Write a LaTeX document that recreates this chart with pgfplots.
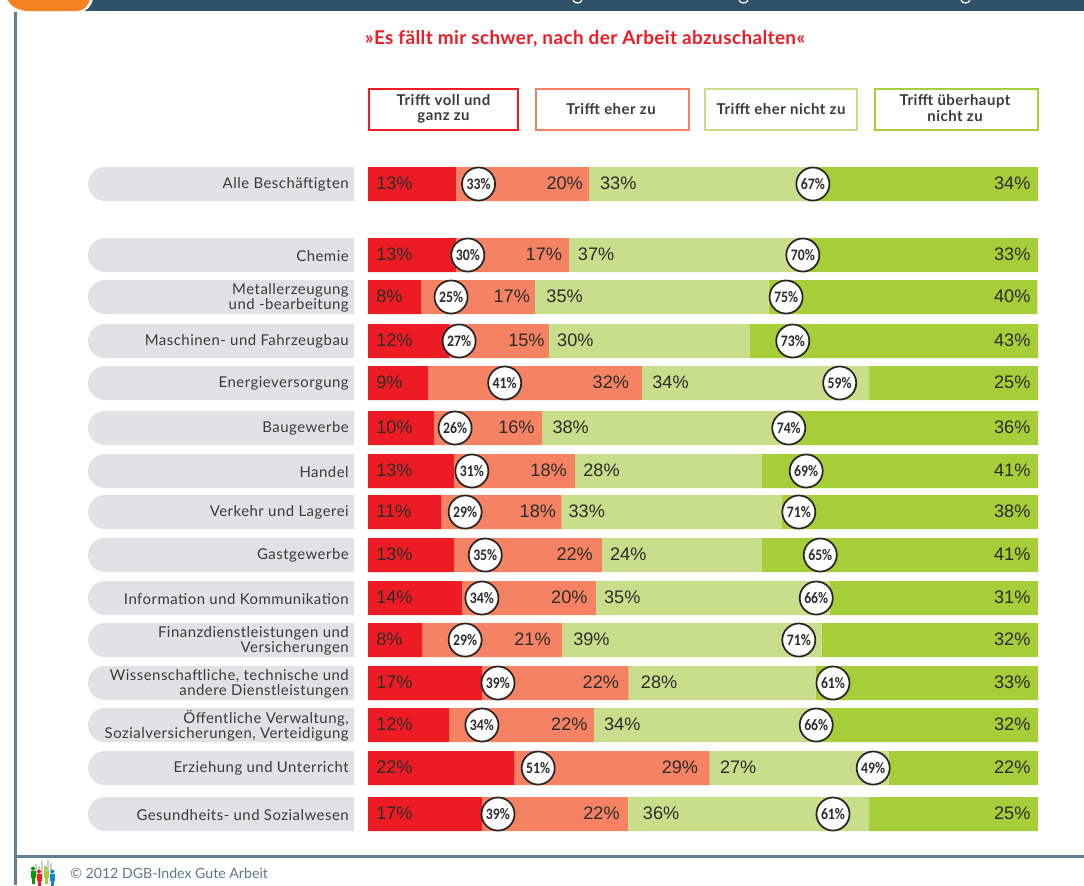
\documentclass[border=0pt]{standalone}
\usepackage{pgfplots}
\usepackage{pgfplotstable}
\usepackage{fontspec}
\pgfplotsset{compat=1.18}
\setmainfont{Lato}
\newfontfamily\catfont[LetterSpace=3.3]{Lato}
\newfontfamily\titfont[LetterSpace=2.0]{Lato}
\newfontfamily\legfont[LetterSpace=3.5]{Lato}
\newfontfamily\numfont{Liberation Sans}
\newfontfamily\circfont[FakeStretch=0.86]{Carlito}
\definecolor{cRed}{HTML}{ED1C24}
\definecolor{cSal}{HTML}{F58263}
\definecolor{cLig}{HTML}{C8DE8A}
\definecolor{cDrk}{HTML}{A6CE39}
\definecolor{cBand}{HTML}{2F5269}
\definecolor{cOra}{HTML}{F58220}
\definecolor{cRule}{HTML}{5F8093}
\definecolor{cPill}{HTML}{E1E2E4}
\definecolor{cTxt}{HTML}{3A3A3A}
\definecolor{cNum}{HTML}{2B2B2B}
\definecolor{cFoot}{HTML}{5A7889}
\pgfplotstableread{
y   red  sal  lig  drk  spos lpos c1   c2   v1 v2 v3 v4 w1 w2
184 13.1 19.9 33.4 33.6 32.1 34.6 16.5 66.4 13 20 33 34 33 67
255 13.1 16.9 34.9 35.1 29.0 31.3 14.9 64.9 13 17 37 33 30 70
297 7.9  17.0 34.9 40.1 24.2 26.6 12.4 62.4 8  17 35 40 25 75
341 12.1 14.9 30.0 43.0 26.4 28.2 13.6 63.4 12 15 30 43 27 73
383 9.0  31.9 33.9 25.2 39.0 42.4 20.4 70.4 9  32 34 25 41 59
428 9.9  16.1 36.9 37.1 24.9 27.5 13.0 62.8 10 16 38 36 26 74
471 12.8 18.1 27.9 41.2 29.7 32.1 15.5 65.4 13 18 28 41 31 69
512 11.0 17.9 32.8 38.3 28.1 29.9 14.5 64.3 11 18 33 38 29 71
555 12.8 22.1 23.9 41.2 33.6 36.1 17.5 67.5 13 22 24 41 35 65
598 14.0 20.0 34.9 31.1 32.8 35.2 17.0 66.9 14 20 35 31 34 66
640 8.1  20.9 38.7 32.3 27.3 30.6 14.5 64.3 8  21 39 32 29 71
683 17.0 21.9 27.9 33.2 37.5 40.7 19.4 69.4 17 22 28 33 39 61
725 12.1 21.6 33.1 33.2 32.8 35.2 17.0 66.9 12 22 34 32 34 66
768 21.9 29.1 26.7 22.3 49.3 52.5 25.4 75.4 22 29 27 22 51 49
814 17.0 21.8 36.0 25.2 37.6 41.0 19.4 69.4 17 22 36 25 39 61
}\T
\tikzset{legbox/.style={draw=#1,line width=1.5pt,fill=white}}
\begin{document}
\begin{tikzpicture}
\useasboundingbox (0,0) rectangle (813pt,-663.75pt);
\begin{scope}[x=0.75pt,y=-0.75pt]
 % frame
 \fill[cBand] (80,0) rectangle (1084,11);
 \fill[white] (4,-1) -- (93,-1) .. controls (92,6) and (86,12.5) .. (78,12.5) -- (28,12.5) .. controls (15,12.5) and (7,6) .. (4,-1) -- cycle;
 \fill[cOra] (7,-1) -- (90,-1) .. controls (89,5) and (84,11) .. (77,11) -- (29,11) .. controls (17,11) and (10,5) .. (7,-1) -- cycle;
 \draw[white,line width=0.9pt] (573,0) .. controls (574,4) and (581,4) .. (582,0);
 \draw[white,line width=0.9pt] (739,0) .. controls (740,4) and (747,4) .. (748,0);
 \draw[white,line width=0.9pt] (961,0) .. controls (962,4) and (969,4) .. (970,0);
 \fill[cRule] (14,12) rectangle (16.5,885);
 \fill[cRule] (14,855) rectangle (1084,857.5);
 % pills behind the category names
 \foreach \yy in {184,255,297,341,383,428,471,512,555,598,640,683,725,768,814}{
   \fill[cPill] (354,\yy-17) -- (105,\yy-17) arc[start angle=270,end angle=90,radius=17] -- (354,\yy+17) -- cycle;
 }
 % title
 \node[text=cRed,font=\titfont\bfseries\fontsize{14.2pt}{16pt}\selectfont] at (585,39) {»Es fällt mir schwer, nach der Arbeit abzuschalten«};
 % legend
 \foreach \xa/\xb/\col in {369/518/cRed,536/689/cSal,705/857/cLig,875/1038/cDrk}{
   \draw[legbox=\col] (\xa,89) rectangle (\xb,130);
 }
 \begin{scope}[every node/.style={text=cTxt,align=center,font=\legfont\bfseries\fontsize{11.2pt}{11.6pt}\selectfont}]
 \node at (443.5,109) {Trifft voll und\\ganz zu};
 \node at (611,109) {Trifft eher zu};
 \node at (781,109) {Trifft eher nicht zu};
 \node at (955,108) {Trifft überhaupt\\nicht zu};
 \end{scope}
 % footer
 \node[anchor=west,text=cFoot,font=\fontsize{10.6pt}{12pt}\selectfont,inner sep=0] at (70,873) {© 2012 DGB-Index Gute Arbeit};
 \foreach \xx/\hh in {32/868,35/864,38/866,41/861,44/865,47/860,50/863}{
   \fill[gray!40] (\xx,\hh) rectangle (\xx+2,876);
 }
 \foreach \xx/\yy/\col in {33/871/green!60!black,39/874/cRed,46/871/cDrk,52.5/874/cyan!70!blue}{
   \fill[\col] (\xx,\yy-2.5) circle (2);
   \fill[\col] (\xx-2.5,\yy) rectangle (\xx+2.5,\yy+7);
   \fill[\col] (\xx-1.5,\yy+7) rectangle (\xx+1.5,\yy+13);
 }
\end{scope}
\begin{axis}[
  at={(276pt,-663.75pt)},anchor=south west,
  scale only axis,width=502.5pt,height=663.75pt,
  xmin=0,xmax=100,ymin=0,ymax=885,y dir=reverse,
  xbar stacked,bar width=25.5pt,
  axis line style={draw=none},
  xtick=\empty,
  ytick={184,255,297,341,383,428,471,512,555,598,640,683,725,768,814},
  yticklabels={Alle Beschäftigten,Chemie,{Metallerzeugung\\und -bearbeitung},Maschinen- und Fahrzeugbau,Energieversorgung,Baugewerbe,Handel,Verkehr und Lagerei,Gastgewerbe,Information und Kommunikation,{Finanzdienstleistungen und\\Versicherungen},{Wissenschaftliche, technische und\\andere Dienstleistungen},{Öffentliche Verwaltung,\\Sozialversicherungen, Verteidigung},Erziehung und Unterricht,Gesundheits- und Sozialwesen},
  major tick length=0pt,
  yticklabel style={align=right,text=cTxt,inner sep=0pt,font=\catfont\fontsize{11.2pt}{11.8pt}\selectfont},
  y tick label style={xshift=-14.25pt,yshift=-0.6pt},
  clip=false,
]
\addplot[draw=none,fill=cRed] table[x=red,y=y]{\T};
\addplot[draw=none,fill=cSal] table[x=sal,y=y]{\T};
\addplot[draw=none,fill=cLig] table[x=lig,y=y]{\T};
\addplot[draw=none,fill=cDrk] table[x=drk,y=y]{\T};
\end{axis}
\begin{axis}[
  at={(276pt,-663.75pt)},anchor=south west,
  scale only axis,width=502.5pt,height=663.75pt,
  xmin=0,xmax=100,ymin=0,ymax=885,y dir=reverse,
  hide axis,clip=false,
  every node near coord/.append style={inner sep=0pt,text=cNum,font=\numfont\fontsize{13.6pt}{15pt}\selectfont},
  nodes near coords={\pgfplotspointmeta\%},
  point meta=explicit symbolic,
]
\addplot[draw=none,no marks,nodes near coords align={anchor=west,yshift=0.9pt}] table[x expr=1.2,y=y,meta=v1]{\T};
\addplot[draw=none,no marks,nodes near coords align={anchor=east,yshift=0.9pt}] table[x=spos,y=y,meta=v2]{\T};
\addplot[draw=none,no marks,nodes near coords align={anchor=west,yshift=0.9pt}] table[x=lpos,y=y,meta=v3]{\T};
\addplot[draw=none,no marks,nodes near coords align={anchor=east,yshift=0.9pt}] table[x expr=98.9,y=y,meta=v4]{\T};
\addplot[only marks,mark=*,mark size=12.4pt,mark options={draw=black!85,fill=white,line width=1.3pt},
  every node near coord/.append style={font=\circfont\bfseries\fontsize{12pt}{13pt}\selectfont},
  nodes near coords align={anchor=center}] table[x=c1,y=y,meta=w1]{\T};
\addplot[only marks,mark=*,mark size=12.4pt,mark options={draw=black!85,fill=white,line width=1.3pt},
  every node near coord/.append style={font=\circfont\bfseries\fontsize{12pt}{13pt}\selectfont},
  nodes near coords align={anchor=center}] table[x=c2,y=y,meta=w2]{\T};
\end{axis}
\end{tikzpicture}
\end{document}
